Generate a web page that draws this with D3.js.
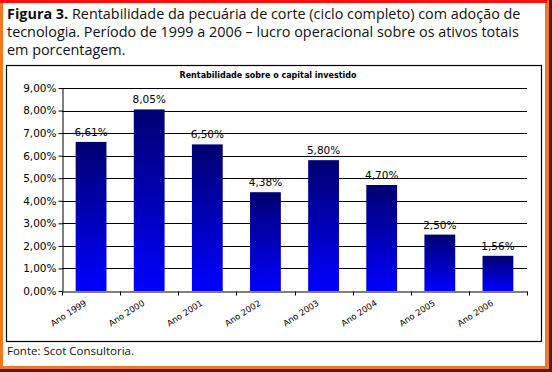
<!DOCTYPE html>
<html>
<head>
<meta charset="utf-8">
<script src="https://cdn.jsdelivr.net/npm/d3@7"></script>
<style>
  body { margin: 0; background: #fff; }
  svg { display: block; }
</style>
</head>
<body>
<script>
var categories = ["Ano 1999", "Ano 2000", "Ano 2001", "Ano 2002", "Ano 2003", "Ano 2004", "Ano 2005", "Ano 2006"];
var values = [6.61, 8.05, 6.50, 4.38, 5.80, 4.70, 2.50, 1.56];
var yTicks = [0, 1, 2, 3, 4, 5, 6, 7, 8, 9];
var captionLines = [
  ["Figura 3.", " Rentabilidade da pecuária de corte (ciclo completo) com adoção de"],
  ["", "tecnologia. Período de 1999 a 2006 – lucro operacional sobre os ativos totais"],
  ["", "em porcentagem."]
];
var chartTitle = "Rentabilidade sobre o capital investido";
var source = "Fonte: Scot Consultoria.";

var width = 552, height = 372;
var fmt = function(v) { return d3.format(".2f")(v).replace(".", ",") + "%"; };

var svg = d3.select("body").append("svg")
  .attr("width", width)
  .attr("height", height);

// frame
svg.append("rect").attr("x", 0).attr("y", 0).attr("width", width).attr("height", height).attr("fill", "#fff");
svg.append("rect").attr("x", 0).attr("y", 0).attr("width", 3).attr("height", 370).attr("fill", "#f07820");
svg.append("rect").attr("x", 545).attr("y", 0).attr("width", 4).attr("height", 370).attr("fill", "#f07820");
svg.append("rect").attr("x", 549).attr("y", 0).attr("width", 3).attr("height", height).attr("fill", "#5a1a00");
svg.append("rect").attr("x", 0).attr("y", 366).attr("width", 549).attr("height", 3).attr("fill", "#f07820");
svg.append("rect").attr("x", 0).attr("y", 369).attr("width", width).attr("height", 3).attr("fill", "#5a1a00");
svg.append("rect").attr("x", 0).attr("y", 0).attr("width", 547).attr("height", 3).attr("fill", "#ff1010");

// caption
var cap = svg.append("g").style("font-family", "'Open Sans', sans-serif").style("font-size", "14.4px").attr("fill", "#111");
captionLines.forEach(function(l, i) {
  var t = cap.append("text").attr("x", 7).attr("y", 19 + i * 18);
  t.append("tspan").attr("font-weight", "bold").text(l[0]);
  t.append("tspan").text(l[1]);
});

// chart box
svg.append("rect")
  .attr("x", 6.5).attr("y", 65.5)
  .attr("width", 535).attr("height", 276)
  .attr("fill", "#fff").attr("stroke", "#000").attr("stroke-width", 1.2);

svg.append("text")
  .attr("x", 268).attr("y", 78)
  .attr("text-anchor", "middle")
  .style("font-family", "Verdana, 'DejaVu Sans', sans-serif")
  .style("font-size", "8px").style("font-weight", "bold")
  .text(chartTitle);

var plotLeft = 62, plotRight = 527, plotTop = 88, plotBottom = 291;

var x = d3.scaleBand().domain(categories).range([plotLeft, plotRight]).paddingInner(0.47).paddingOuter(0.235);
var y = d3.scaleLinear().domain([0, 9]).range([plotBottom, plotTop]);

var defs = svg.append("defs");
var grad = defs.append("linearGradient").attr("id", "barGrad")
  .attr("x1", 0).attr("y1", 0).attr("x2", 0).attr("y2", 1);
grad.append("stop").attr("offset", "0%").attr("stop-color", "#000070");
grad.append("stop").attr("offset", "100%").attr("stop-color", "#0000ff");

// gridlines
svg.append("g").selectAll("line").data(yTicks.slice(1)).join("line")
  .attr("x1", plotLeft).attr("x2", plotRight)
  .attr("y1", function(d) { return Math.round(y(d)) + 0.5; })
  .attr("y2", function(d) { return Math.round(y(d)) + 0.5; })
  .attr("stroke", "#000").attr("stroke-width", 1);

// bars
svg.append("g").selectAll("rect").data(values).join("rect")
  .attr("x", function(d, i) { return x(categories[i]); })
  .attr("y", function(d) { return y(d); })
  .attr("width", x.bandwidth())
  .attr("height", function(d) { return y(0) - y(d); })
  .attr("fill", "url(#barGrad)");

// value labels
svg.append("g").selectAll("text").data(values).join("text")
  .attr("x", function(d, i) { return x(categories[i]) + x.bandwidth() / 2; })
  .attr("y", function(d) { return y(d) - 6; })
  .attr("text-anchor", "middle")
  .style("font-family", "Verdana, 'DejaVu Sans', sans-serif")
  .style("font-size", "10.5px")
  .attr("fill", "#000")
  .text(fmt);

// y axis
var yAxis = svg.append("g").attr("transform", "translate(" + (plotLeft + 0.5) + ",0)")
  .call(d3.axisLeft(y).tickValues(yTicks).tickSize(4).tickSizeOuter(0).tickFormat(fmt));
yAxis.selectAll("text")
  .style("font-family", "Verdana, 'DejaVu Sans', sans-serif")
  .style("font-size", "10.5px").attr("fill", "#000").attr("x", -6);

// x axis
var xAxis = svg.append("g").attr("transform", "translate(0," + (plotBottom + 0.5) + ")")
  .call(d3.axisBottom(x).tickSize(0).tickSizeOuter(0));
xAxis.selectAll(".tick line").remove();
xAxis.selectAll("text")
  .style("font-family", "Verdana, 'DejaVu Sans', sans-serif")
  .style("font-size", "8.5px").attr("fill", "#000")
  .attr("text-anchor", "end")
  .attr("transform", "translate(-4,13) rotate(-33)")
  .attr("dy", "0").attr("y", 0).attr("x", 0);
var step = x.step();
var bounds = d3.range(categories.length + 1).map(function(i) { return plotLeft + i * step; });
xAxis.selectAll(".bound").data(bounds).join("line").attr("class", "bound")
  .attr("x1", function(d) { return Math.round(d) + 0.5; })
  .attr("x2", function(d) { return Math.round(d) + 0.5; })
  .attr("y1", 0).attr("y2", 4).attr("stroke", "#000");

// source
svg.append("text").attr("x", 7).attr("y", 355)
  .style("font-family", "'Open Sans', sans-serif").style("font-size", "11.5px").attr("fill", "#111")
  .text(source);
</script>
</body>
</html>
